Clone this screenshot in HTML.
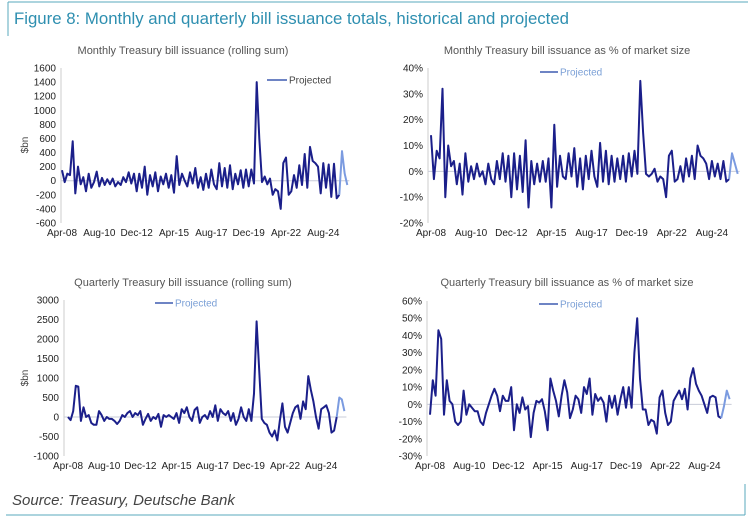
<!DOCTYPE html>
<html><head><meta charset="utf-8">
<style>
body{margin:0;background:#fff;font-family:"Liberation Sans",sans-serif;}
#wrap{position:relative;width:748px;height:522px;overflow:hidden;}
svg text{font-family:"Liberation Sans",sans-serif;}
</style></head>
<body>
<div id="wrap">
<svg id="svg" width="748" height="522" viewBox="0 0 748 522" xmlns="http://www.w3.org/2000/svg">
  <line x1="8" y1="2" x2="748" y2="2" stroke="#5aa9bd" stroke-width="1"/>
  <line x1="8" y1="2" x2="8" y2="36" stroke="#5aa9bd" stroke-width="1"/>
  <text x="14" y="24" font-size="16.8" fill="#2e8fb0">Figure 8: Monthly and quarterly bill issuance totals, historical and projected</text>
  <line x1="6" y1="515" x2="745" y2="515" stroke="#5aa9bd" stroke-width="1"/>
  <line x1="745" y1="484" x2="745" y2="515" stroke="#5aa9bd" stroke-width="1"/>
  <text x="12" y="505" font-size="15" font-style="italic" fill="#444">Source: Treasury, Deutsche Bank</text>
</svg>
</div>
<script>
const xLabels = ["Apr-08","Aug-10","Dec-12","Apr-15","Aug-17","Dec-19","Apr-22","Aug-24"];
const xLabelDates = [2008.25,2010.583,2012.917,2015.25,2017.583,2019.917,2022.25,2024.583];
const startDate = 2008.25;
const stepYears = 1/6;
const projStart = 104;

const monthlyBn = [150,-20,100,80,560,
-180,200,-50,50,-150,100,
-100,-20,130,-80,40,-60,
20,-50,30,-80,-20,-60,
50,-20,120,-40,100,-150,
100,-100,200,-200,80,-80,
120,-150,60,-50,100,-100,
80,-170,350,-60,100,0,
-80,120,-40,180,-100,50,
-130,100,-100,160,-50,-120,
250,-80,180,-100,220,-120,
100,-50,150,-100,160,-80,
160,-40,1400,600,-20,60,
-50,30,-200,-120,-150,-400,
250,330,-200,-150,80,-100,
220,-60,380,-100,480,280,
250,200,-180,250,-100,230,
-230,240,-250,-200,420,100,
-60];
const monthlyPct = [14,-3,8,5,32,
-10,10,2,4,-5,3,
-9,7,-4,2,-3,3,
-2,0,-5,3,-3,-5,
4,-3,7,-4,6,-10,
7,-7,6,-8,12,-14,
4,-5,3,-4,4,-4,
5,-14,18,-6,6,-2,
-3,7,-2,9,-6,5,
-7,6,-3,8,-2,-6,
11,-4,8,-5,6,-4,
5,-3,6,-4,7,-2,
8,-1,35,15,-1,-2,
-1,1,-4,-2,-3,-10,
6,8,-4,-3,2,-4,
5,-2,6,-3,10,6,
5,3,-3,4,-2,3,
-3,4,-4,-3,7,3,
-1];
const quarterlyBn = [0,-80,150,800,780,
-100,250,0,50,-150,-200,
-200,150,50,-100,0,-50,
-50,-100,-180,-100,50,0,
100,150,0,100,50,150,
-200,-50,80,-100,0,-50,
80,-250,50,0,50,0,
-50,100,-150,200,100,250,
0,-100,180,250,-150,0,
50,-50,150,0,300,-100,
200,100,50,150,-100,100,
-200,-50,250,0,-100,200,
-100,600,2450,1200,-50,-150,
-200,-400,-500,-350,-600,-100,
350,-250,-400,-150,100,250,
300,-50,400,200,1050,700,
400,0,-300,200,250,300,
100,-400,-350,0,500,450,
150];
const quarterlyPct = [-6,14,5,43,38,
-6,14,2,0,-10,-12,
-10,8,-6,0,-2,-4,
-4,-10,-12,-5,0,5,
9,5,-4,5,2,2,
10,-15,0,-5,4,-3,
-1,-19,-5,2,1,3,
-4,-15,15,8,2,-7,
5,14,7,-8,-3,5,
3,-5,10,6,15,-6,
6,2,4,1,-10,5,
-2,5,-6,3,10,-2,
10,-2,30,50,15,-3,
-3,-12,-9,-10,-17,4,
8,-5,-12,-10,2,5,
8,3,9,-3,15,21,
12,8,5,0,-5,4,
5,4,-7,-8,-1,8,
3];

const ticksC1 = [1600,1400,1200,1000,800,600,400,200,0,-200,-400,-600];
const ticksC2 = [40,30,20,10,0,-10,-20];
const ticksC3 = [3000,2500,2000,1500,1000,500,0,-500,-1000];
const ticksC4 = [60,50,40,30,20,10,0,-10,-20,-30];

const NS = "http://www.w3.org/2000/svg";
const svg = document.getElementById('svg');
function mk(tag, attrs, parent){
  const e = document.createElementNS(NS, tag);
  for (const k in attrs) e.setAttribute(k, attrs[k]);
  (parent||svg).appendChild(e);
  return e;
}

const charts = [
 {id:'monthly-bn', title:'Monthly Treasury bill issuance (rolling sum)', tcx:183, ty:54, data:monthlyBn, ticks:ticksC1, pct:false,
  axisX:61, x0:62, pxYr:16.0, yTop:68, yBot:223, ylab:true, ylabY:145, leg:{x1:267,x2:287,y:80,col:'#444'}},
 {id:'monthly-pct', title:'Monthly Treasury bill issuance as % of market size', tcx:567, ty:54, data:monthlyPct, ticks:ticksC2, pct:true,
  axisX:428, x0:431, pxYr:17.2, yTop:68, yBot:223, ylab:false, leg:{x1:540,x2:558,y:72,col:'#7a9fd6'}},
 {id:'quarterly-bn', title:'Quarterly Treasury bill issuance (rolling sum)', tcx:183, ty:286, data:quarterlyBn, ticks:ticksC3, pct:false,
  axisX:64, x0:68, pxYr:15.5, yTop:300, yBot:456, ylab:true, ylabY:378, leg:{x1:155,x2:173,y:303,col:'#7a9fd6'}},
 {id:'quarterly-pct', title:'Quarterly Treasury bill issuance as % of market size', tcx:567, ty:286, data:quarterlyPct, ticks:ticksC4, pct:true,
  axisX:427, x0:430, pxYr:16.8, yTop:301, yBot:456, ylab:false, leg:{x1:539,x2:558,y:304,col:'#7a9fd6'}}
];

charts.forEach(c=>{
  const g = mk('g',{});
  
  
  const tmax = c.ticks[0], tmin = c.ticks[c.ticks.length-1];
  const yS = v => c.yTop + (tmax - v)/(tmax - tmin)*(c.yBot - c.yTop);
  const xS = d => c.x0 + (d - startDate)*c.pxYr;

  const t = mk('text',{x:c.tcx, y:c.ty, 'font-size':11, fill:'#555', 'text-anchor':'middle'}, g);
  t.textContent = c.title;
  
  

  const ax = mk('line',{x1:c.axisX, y1:c.yTop, x2:c.axisX, y2:c.yBot, stroke:'#ccc', 'stroke-width':1}, g);
  
  
  const z = mk('line',{x1:c.axisX, y1:yS(0), x2:xS(startDate+107*stepYears)+2, y2:yS(0), stroke:'#c8ccd8', 'stroke-width':1}, g);
  
  

  c.ticks.forEach(v=>{
    const tl = mk('text',{x:c.axisX-5, y:yS(v)+3.5, 'font-size':10, fill:'#222', 'text-anchor':'end'}, g);
    tl.textContent = c.pct ? v+'%' : String(v);
    
    
  });
  xLabels.forEach((lab,i)=>{
    const tl = mk('text',{x:xS(xLabelDates[i]), y:c.yBot+13, 'font-size':10, fill:'#222', 'text-anchor':'middle'}, g);
    tl.textContent = lab;
    
    
  });
  if (c.ylab){
    const yl = mk('text',{x:28, y:c.ylabY, 'font-size':10, fill:'#444', 'text-anchor':'middle', transform:'rotate(-90 28 '+c.ylabY+')'}, g);
    yl.textContent = '$bn';
    
    
  }

  let hist = '', proj = '';
  c.data.forEach((v,i)=>{
    const p = xS(startDate+i*stepYears).toFixed(1)+','+yS(v).toFixed(1);
    if (i <= projStart) hist += (i? ' L':'M')+p;
    if (i >= projStart) proj += (i===projStart? 'M':' L')+p;
  });
  const hl = mk('path',{d:hist, fill:'none', stroke:'#1b1f8a', 'stroke-width':2, 'stroke-linejoin':'round'}, g);
  
  
  const pl = mk('path',{d:proj, fill:'none', stroke:'#7b9be0', 'stroke-width':2, 'stroke-linejoin':'round'}, g);
  
  

  const ll = mk('line',{x1:c.leg.x1, y1:c.leg.y, x2:c.leg.x2, y2:c.leg.y, stroke:'#3f5cb0', 'stroke-width':1.5}, g);
  
  
  const lt = mk('text',{x:c.leg.x2+2, y:c.leg.y+3.5, 'font-size':10, fill:c.leg.col}, g);
  lt.textContent = 'Projected';
  
  
});
</script>
</body></html>
